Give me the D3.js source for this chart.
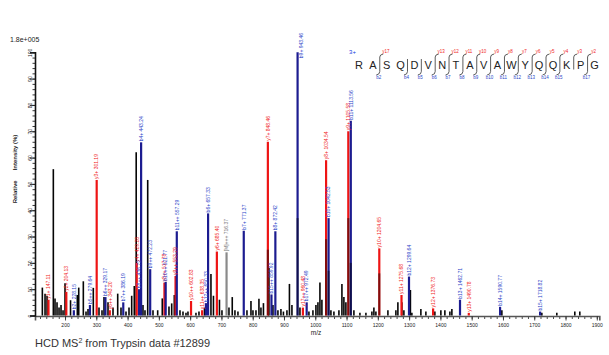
<!DOCTYPE html>
<html><head><meta charset="utf-8">
<script src="https://cdn.jsdelivr.net/npm/d3@7"></script>
<style>
body{margin:0;background:#fff}
svg{display:block}
text{font-family:"Liberation Sans",Arial,sans-serif}
</style>
</head><body>
<svg id="c" width="609" height="355"></svg>
<script>
// ---------- data ----------
const bLabels = ["b2+ 228.15","b5++ 279.64","b6++ 329.17","b7++ 386.19","b8++ 436.72","b4+ 443.24","b9++ 472.23","b10++ 521.77","b11++ 557.29","b12++ 650.33","b6+ 657.33","b7+ 771.37","b15++ 859.92","b8+ 872.42","b9+ 943.46","b17++ 972.49","b10+ 1042.53","b11+ 1113.56","b12+ 1299.64","b13+ 1462.71","b14+ 1590.77","b15+ 1718.82"];
const bMz = [228.15,279.64,329.17,386.19,436.72,443.24,472.23,521.77,557.29,650.33,657.33,771.37,859.92,872.42,943.46,972.49,1042.53,1113.56,1299.64,1462.71,1590.77,1718.82];
const bInt = [2,4,7,5,10,65.8,17.6,12.8,32,4.7,38.8,32.2,8,32,100,5,37,74,14.8,6,3.3,1.5];

const yLabels = ["y1+ 147.11","y2+ 204.13","y3+ 301.19","y6++ 343.20","y4+ 429.28","y8++ 517.78","y9++ 553.29","y10++ 602.83","y11++ 638.35","y6+ 685.40","y7+ 848.46","y17++ 960.48","y8+ 1034.54","y9+ 1105.58","y10+ 1204.65","y11+ 1275.68","y12+ 1376.73","y13+ 1490.78"];
const yMz = [147.11,204.13,301.19,343.20,429.28,517.78,553.29,602.83,638.35,685.40,848.46,960.48,1034.54,1105.58,1204.65,1275.68,1376.73,1490.78];
const yInt = [6,9,51.5,2,20,12.5,15,5.5,2,24.3,66,3,59,70,25.5,7.8,2.7,1];

const precLabels = ["[M]+++ 716.37"];
const precMz = [716.37];
const precInt = [24];

const noiseMz = [127.5,136.1,142.5,162.6,168.0,174.4,180.8,187.2,193.6,200.0,217.6,239.3,243.8,258.5,267.1,273.5,290.4,308.6,318.2,324.6,337.4,353.4,368.4,378.9,394.9,404.5,413.1,421.4,427.5,449.2,455.6,464.3,481.2,496.2,510.9,532.3,541.0,549.3,567.5,577.1,586.7,593.0,618.6,628.2,645.8,666.5,674.5,693.7,701.7,724.1,734.6,743.2,752.8,781.6,794.4,800.8,810.4,819.9,826.3,834.3,851.9,864.7,880.6,890.2,898.2,909.4,917.4,925.4,951.0,979.7,992.5,1002.1,1008.5,1014.9,1021.2,1050.0,1059.6,1075.6,1085.2,1091.5,1097.9,1123.5,1142.7,1161.9,1181.0,1187.4,1193.8,1232.2,1257.7,1264.1,1276.9,1283.3,1304.1,1308.8,1337.6,1353.6,1382.3,1401.5,1414.3,1430.3,1436.7,1596.5,1724.3,1772.2,1829.7,1845.7];
const noiseInt = [10.6,8.3,7.5,55.6,6.5,5,3,4,2,12.3,5.8,7.8,10.6,13,1.5,2.5,10.5,3,2,7,5,3,8.3,3,1.5,3,7.5,11.2,62,4,2,51.5,2,2,6.5,3.4,4.6,7.8,2,1.5,1,1.5,1,1.5,3,15.8,7.5,6,2,3,7,2,1.5,2,5.5,2,2,6.4,3,4.7,18,4,2,2.5,1.5,2,12,4,3,1.5,2,4,5,12.5,6,2,1.5,2,12,7,5,2,1,1,1.5,3,1.5,2,2,5,5,2,9.7,1,2.5,1.5,1.5,2,2,1.5,2.5,2,1,1,1.5,1.5];

const shadeMz = [848.46,943.46,1034.54,1042.53,1105.58,1113.56,1204.65];
const shadeInt = [25,37,29,17,37,20,16];

const xMajorTicks = d3.range(200,1901,100);
const yMajorTicks = d3.range(0,101,10);

const residues = "RASQDVNTAVAWYQQKPG".split("");
// fragment breaks: gap after residue index
const breakAfter = [1,3,4,5,6,7,8,9,10,11,12,13,14,15,16];
const breakB = ["b2","b4","b5","b6","b7","b8","b9","b10","b11","b12","b13","b14","b15","","b17"];
const breakY = ["y17","","","y13","y12","y11","y10","y9","y8","y7","y6","y5","y4","y3","y2"];

// ---------- drawing ----------
const svg = d3.select("#c");
const RED = "#ee1414", RED_T = "#f01c1c", BLUE = "#1c1c90", BLUE_T = "#2b45c8", GRAY = "#8a8a8a";

const x = d3.scaleLinear().domain([104,1908]).range([35,599.3]);
const y = d3.scaleLinear().domain([0,100]).range([315.5,52.3]);

// x axis
const gx = svg.append("g").attr("transform","translate(0,316)");
gx.call(d3.axisBottom(x).tickValues(d3.range(120,1908,20)).tickSize(3).tickFormat(""))
  .call(g=>g.select(".domain").remove());
gx.append("g").call(d3.axisBottom(x).tickValues(xMajorTicks).tickSize(4.5).tickPadding(3).tickFormat(d3.format("d")))
  .call(g=>g.select(".domain").attr("stroke","#555").attr("stroke-width",1.6))
  .call(g=>g.selectAll("text").attr("font-size","5px").attr("fill","#222"));
gx.selectAll("line").attr("stroke","#333").attr("stroke-width",0.9);

// y axis
const gy = svg.append("g").attr("transform","translate(35,0)");
gy.call(d3.axisLeft(y).tickValues(d3.range(0,101,2)).tickSize(2.5).tickFormat(""))
  .call(g=>g.select(".domain").remove());
gy.append("g").call(d3.axisLeft(y).tickValues(yMajorTicks).tickSize(5))
  .call(g=>g.select(".domain").attr("stroke","#111").attr("stroke-width",1.6))
  .call(g=>g.selectAll("text").attr("font-size","5px").attr("fill","#222")
     .attr("x",0).attr("dy",0).attr("text-anchor","middle")
     .attr("transform","translate(-3.4,0) rotate(-90)"));
gy.selectAll("line").attr("stroke","#222").attr("stroke-width",0.9);

// titles
svg.append("text").attr("x",10).attr("y",42).attr("font-size","7px").attr("fill","#222").text("1.8e+005");
svg.append("text").attr("transform","translate(16.5,169) rotate(-90)").attr("text-anchor","middle")
  .attr("font-size","6px").attr("font-weight","bold").attr("fill","#222")
  .style("white-space","pre").text("Relative      Intensity (%)");
svg.append("text").attr("x",316).attr("y",335).attr("text-anchor","middle").attr("font-size","6.5px").attr("fill","#222").text("m/z");
const cap = svg.append("text").attr("x",35).attr("y",346.5).attr("font-size","11px").attr("fill","#333");
cap.append("tspan").text("HCD MS");
cap.append("tspan").attr("font-size","7px").attr("dy",-4).text("2");
cap.append("tspan").attr("dy",4).text(" from Trypsin data #12899");

// peaks
const plot = svg.append("g");
function bars(mz, it, color, w){
  plot.append("g").selectAll("line").data(mz.map((m,i)=>({m, v:it[i]}))).join("line")
    .attr("x1",d=>x(d.m)).attr("x2",d=>x(d.m)).attr("y1",y(0)).attr("y2",d=>y(d.v))
    .attr("stroke",color).attr("stroke-width",w);
}
bars(noiseMz, noiseInt, "#050505", 1.6);
bars(precMz, precInt, GRAY, 2.2);
bars(yMz, yInt, RED, 2.2);
bars(bMz, bInt, BLUE, 2.2);
plot.append("g").selectAll("line").data(shadeMz.map((m,i)=>({m, v:shadeInt[i]}))).join("line")
  .attr("x1",d=>x(d.m)).attr("x2",d=>x(d.m)).attr("y1",y(0)).attr("y2",d=>y(d.v))
  .attr("stroke","#000").attr("stroke-opacity",0.45).attr("stroke-width",2.2);

// labels
function labels(lab, mz, it, color){
  const g = plot.append("g");
  lab.forEach((t,i)=>{
    const px = x(mz[i]), top = y(it[i]);
    const tx = g.append("text").attr("font-size","5px").attr("fill",color).text(t);
    const len = tx.node().getComputedTextLength();
    let lx = px + 1.8, ly = top - 1;
    if (ly - len < 31) { lx = px + 5.5; ly = 33 + len; }
    tx.attr("transform",`translate(${lx},${ly}) rotate(-90)`);
  });
}
labels(precLabels, precMz, precInt, "#777");
labels(yLabels, yMz, yInt, RED_T);
labels(bLabels, bMz, bInt, BLUE_T);

// sequence graphic
const seqX = d3.scaleLinear().domain([0, residues.length-1]).range([359, 594.5]);
const step = seqX(1)-seqX(0);
const sg = svg.append("g");
sg.append("text").attr("x",352.5).attr("y",54).attr("text-anchor","middle").attr("font-size","6px").attr("fill","#2040e0").text("3+");
sg.selectAll("text.res").data(residues).join("text").attr("class","res")
  .attr("x",(d,i)=>seqX(i)).attr("y",68.5).attr("text-anchor","middle")
  .attr("font-size","11px").attr("fill","#222").text(d=>d);
breakAfter.forEach((k,i)=>{
  const bx = seqX(k) + step/2;
  const hasB = breakB[i] !== "", hasY = breakY[i] !== "";
  const yTop = hasY ? 57 : 59, yBot = hasB ? 71.5 : 69.5;
  let d = "";
  if (hasY) d += `M${bx+3.5},54 Q${bx},54.5 ${bx},${yTop} `; else d += `M${bx},${yTop} `;
  d += `L${bx},${yBot}`;
  if (hasB) d += ` Q${bx},74.5 ${bx-3.5},75`;
  sg.append("path").attr("d",d).attr("fill","none").attr("stroke","#333").attr("stroke-width",0.8);
  if (hasY) sg.append("text").attr("x",bx+6).attr("y",53).attr("text-anchor","middle")
    .attr("font-size","4.5px").attr("fill",RED_T).text(breakY[i]);
  if (hasB) sg.append("text").attr("x",bx-1).attr("y",79).attr("text-anchor","middle")
    .attr("font-size","4.5px").attr("fill",BLUE_T).text(breakB[i]);
});
</script>
</body></html>
